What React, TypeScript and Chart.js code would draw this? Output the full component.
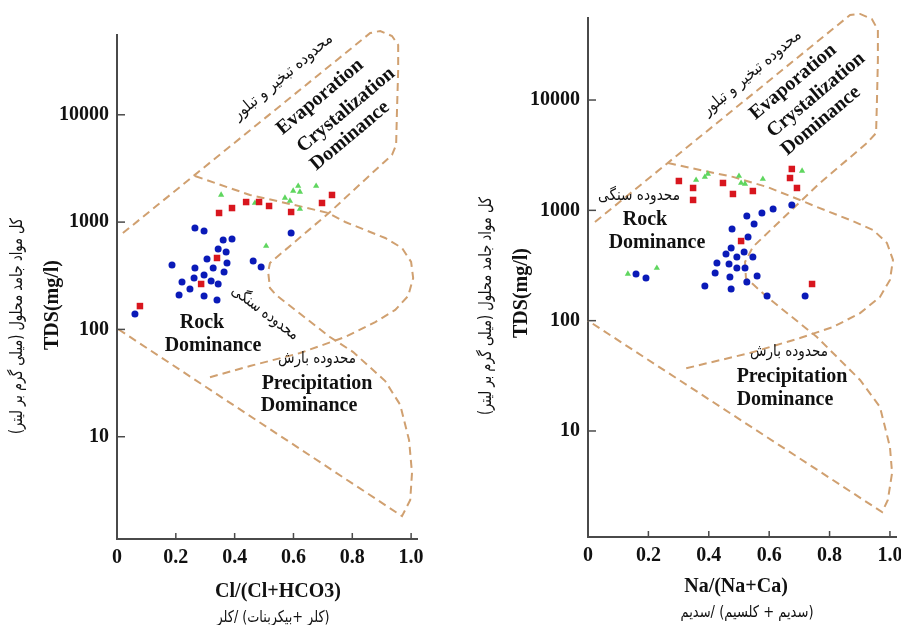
import React, { useEffect, useRef } from "react";
import { Chart, registerables } from "chart.js";

Chart.register(...registerables);

type Pt = [number, number];

// ---------------- shared axis data ----------------
const xTicks = [0, 0.2, 0.4, 0.6, 0.8, 1.0];
const xTickLabels = ["0", "0.2", "0.4", "0.6", "0.8", "1.0"];
const yTicks = [10, 100, 1000, 10000];
const yTickLabels = ["10", "100", "1000", "10000"];

// ---------------- left panel: Cl/(Cl+HCO3) ----------------
const clCircles: Pt[] = [
  [0.265, 881], [0.296, 826], [0.361, 681], [0.391, 696], [0.344, 561], [0.371, 526],
  [0.187, 398], [0.306, 453], [0.374, 416], [0.265, 373], [0.327, 373], [0.364, 343],
  [0.463, 434], [0.49, 382], [0.221, 277], [0.262, 301], [0.296, 321], [0.32, 282],
  [0.248, 238], [0.344, 265], [0.211, 209], [0.296, 205], [0.34, 188], [0.061, 139],
  [0.592, 791],
];
const clSquares: Pt[] = [
  [0.078, 165], [0.347, 1216], [0.391, 1352], [0.439, 1538], [0.483, 1540], [0.517, 1413],
  [0.592, 1242], [0.697, 1507], [0.731, 1790], [0.34, 463], [0.286, 265],
];
const clTriangles: Pt[] = [
  [0.354, 1790], [0.469, 1507], [0.571, 1679], [0.588, 1574], [0.599, 1950],
  [0.616, 2170], [0.622, 1910], [0.677, 2170], [0.622, 1324], [0.507, 599],
];
const clOuterBoundary: Pt[] = [
  [0.02, 790], [0.861, 57800], [0.895, 60400], [0.935, 54200], [0.956, 44700], [0.956, 26100],
  [0.952, 11100], [0.949, 5230], [0.935, 4220], [0.905, 3560], [0.724, 1240], [0.52, 416],
  [0.514, 343], [0.52, 243], [0.541, 209], [0.724, 85], [0.803, 61.5], [0.912, 33],
  [0.963, 19.8], [0.993, 9.3], [1.003, 4.6], [0.997, 2.57], [0.969, 1.82], [0.003, 101],
];
const clInnerBoundary: Pt[] = [
  [0.265, 2690], [0.452, 1790], [0.588, 1476], [0.718, 1216], [0.776, 1002], [0.912, 711],
  [0.969, 574], [1.0, 425], [1.007, 301], [0.99, 205], [0.946, 152], [0.878, 117],
  [0.776, 85], [0.622, 60.2], [0.452, 45.6], [0.306, 35.2],
];

// ---------------- right panel: Na/(Na+Ca) ----------------
const naCircles: Pt[] = [
  [0.159, 265], [0.192, 244], [0.675, 1119], [0.613, 1028], [0.576, 946], [0.526, 889],
  [0.55, 752], [0.477, 678], [0.53, 573], [0.474, 456], [0.457, 402], [0.493, 378],
  [0.517, 419], [0.546, 378], [0.427, 333], [0.467, 326], [0.493, 300], [0.52, 300],
  [0.421, 270], [0.47, 249], [0.526, 224], [0.56, 254], [0.387, 206], [0.474, 194],
  [0.593, 167], [0.719, 167],
];
const naSquares: Pt[] = [
  [0.301, 1845], [0.348, 1595], [0.348, 1242], [0.447, 1770], [0.48, 1407], [0.546, 1497],
  [0.675, 2371], [0.669, 1964], [0.692, 1595], [0.507, 527], [0.742, 215],
];
const naTriangles: Pt[] = [
  [0.132, 265], [0.228, 300], [0.358, 1884], [0.387, 2006], [0.397, 2137],
  [0.5, 2048], [0.507, 1770], [0.52, 1734], [0.579, 1923], [0.709, 2275],
];
const naOuterBoundary: Pt[] = [
  [0.023, 784], [0.868, 59000], [0.901, 60300], [0.94, 54300], [0.96, 43200], [0.96, 23100],
  [0.957, 10000], [0.954, 5020], [0.924, 4080], [0.768, 1770], [0.546, 466], [0.52, 340],
  [0.523, 244], [0.593, 164], [0.758, 71.1], [0.901, 29.0], [0.967, 16.5], [1.0, 7.15],
  [1.007, 4.16], [0.993, 2.37], [0.974, 1.84], [0.0, 100],
];
const naInnerBoundary: Pt[] = [
  [0.265, 2690], [0.371, 2320], [0.48, 2010], [0.593, 1630], [0.702, 1242], [0.758, 1072],
  [0.868, 818], [0.944, 664], [0.99, 506], [1.01, 355], [1.0, 234], [0.967, 164],
  [0.901, 117], [0.811, 87.5], [0.702, 69.6], [0.536, 50.9], [0.315, 36.5],
];

// ---------------- styles ----------------
const BLUE = "#0a1ab8";
const RED = "#d8161e";
const GREEN = "#5fd65f";
const DASH = "#d0a070";
const AXIS = "#4a4a4a";
const TEXT = "#111111";
const SERIF = "'Liberation Serif', 'Times New Roman', serif";
const ARABIC = "'DejaVu Sans', sans-serif";

interface Label {
  text: string;
  x: number;
  y: number;
  rot?: number;
  fa?: boolean;
  fit?: number;
  size?: number;
}

const en = (text: string, x: number, y: number, rot = 0, size = 20): Label => ({ text, x, y, rot, size });
const fa = (text: string, x: number, y: number, fit: number, rot = 0, size = 16): Label => ({ text, x, y, rot, fa: true, fit, size });

const leftLabels: Label[] = [
  fa("محدوده تبخیر و تبلور", 283, 77, 125, -40),
  en("Evaporation", 320, 97, -40),
  en("Crystalization", 346, 110, -40),
  en("Dominance", 350, 136, -40),
  fa("محدوده سنگی", 265, 313, 80, 37),
  en("Rock", 202, 323),
  en("Dominance", 213, 346),
  fa("محدوده بارش", 317, 359, 78),
  en("Precipitation", 317, 384),
  en("Dominance", 309, 406),
  en("Cl/(Cl+HCO3)", 278, 592),
  fa("(کلر +بیکربنات) /کلر", 273, 618, 113),
  en("TDS(mg/l)", 53, 305, -90),
  fa("کل مواد جامد محلول (میلی گرم بر لیتر)", 18, 326, 216, -90, 17),
];

const rightLabels: Label[] = [
  fa("محدوده تبخیر و تبلور", 302, 73, 124, -40),
  en("Evaporation", 343, 82, -40),
  en("Crystalization", 366, 95, -40),
  en("Dominance", 371, 121, -40),
  fa("محدوده سنگی", 189, 196, 82),
  en("Rock", 195, 220),
  en("Dominance", 207, 243),
  fa("محدوده بارش", 339, 352, 78),
  en("Precipitation", 342, 377),
  en("Dominance", 335, 400),
  en("Na/(Na+Ca)", 286, 587),
  fa("(سدیم + کلسیم) /سدیم", 297, 613, 133),
  en("TDS(mg/l)", 72, 293, -90),
  fa("کل مواد جامد محلول (میلی گرم بر لیتر)", 37, 306, 218, -90, 17),
];

function drawLabel(ctx: CanvasRenderingContext2D, l: Label) {
  ctx.save();
  ctx.translate(l.x, l.y);
  if (l.rot) ctx.rotate((l.rot * Math.PI) / 180);
  const family = l.fa ? ARABIC : SERIF;
  const weight = l.fa ? "normal" : "bold";
  // right-to-left embedding for Persian text
  const text = l.fa ? "\u202B" + l.text + "\u202C" : l.text;
  const size = l.size || 20;
  ctx.font = `${weight} ${size}px ${family}`;
  if (l.fit) {
    const w = ctx.measureText(text).width;
    if (w > 0) ctx.scale(l.fit / w, 1);
  }
  (ctx as any).direction = l.fa ? "rtl" : "ltr";
  ctx.textAlign = "center";
  ctx.textBaseline = "middle";
  ctx.fillStyle = TEXT;
  ctx.fillText(text, 0, 0);
  ctx.restore();
}

interface PanelProps {
  left: number;
  width: number;
  height: number;
  area: { left: number; right: number; top: number; bottom: number };
  yMin: number;
  yMax: number;
  xMax: number;
  circles: Pt[];
  squares: Pt[];
  triangles: Pt[];
  outer: Pt[];
  inner: Pt[];
  labels: Label[];
}

const toXY = (pts: Pt[]) => pts.map(([x, y]) => ({ x, y }));

function Panel(p: PanelProps) {
  const ref = useRef<HTMLCanvasElement>(null);
  useEffect(() => {
    const canvas = ref.current;
    if (!canvas) return;
    const annotate = {
      id: "annotate",
      afterDraw(chart: any) {
        const ctx: CanvasRenderingContext2D = chart.ctx;
        const { left, bottom } = chart.chartArea;
        const xs = chart.scales.x;
        const ys = chart.scales.y;
        ctx.save();
        ctx.strokeStyle = AXIS;
        ctx.lineWidth = 1.5;
        xTicks.forEach((v) => {
          if (v === 0) return;
          const px = xs.getPixelForValue(v);
          ctx.beginPath();
          ctx.moveTo(px, bottom);
          ctx.lineTo(px, bottom - 6);
          ctx.stroke();
        });
        yTicks.forEach((v) => {
          const py = ys.getPixelForValue(v);
          ctx.beginPath();
          ctx.moveTo(left, py);
          ctx.lineTo(left + 8, py);
          ctx.stroke();
        });
        ctx.restore();
        p.labels.forEach((l) => drawLabel(ctx, l));
      },
    };
    const lineDs = (pts: Pt[]) => ({
      data: toXY(pts),
      showLine: true,
      pointRadius: 0,
      borderColor: DASH,
      borderWidth: 2,
      borderDash: [8, 5],
      fill: false,
      tension: 0,
      clip: false as any,
      order: 2,
    });
    const tickFont = { family: SERIF, size: 20, weight: "bold" as any };
    const chart = new Chart(canvas, {
      type: "scatter",
      data: {
        datasets: [
          {
            data: toXY(p.squares),
            pointStyle: "rect",
            pointRadius: 4.6,
            backgroundColor: RED,
            borderWidth: 0,
            order: 0,
          } as any,
          {
            data: toXY(p.circles),
            pointStyle: "circle",
            pointRadius: 3.5,
            backgroundColor: BLUE,
            borderWidth: 0,
            order: 1,
          },
          {
            data: toXY(p.triangles),
            pointStyle: "triangle",
            pointRadius: 3.6,
            backgroundColor: GREEN,
            borderWidth: 0,
            order: 1,
          },
          lineDs(p.outer),
          lineDs(p.inner),
        ],
      },
      options: {
        responsive: false,
        animation: false,
        devicePixelRatio: 1,
        events: [],
        layout: {
          padding: { left: 0, top: p.area.top, right: p.width - p.area.right, bottom: 0 },
        },
        plugins: { legend: { display: false }, tooltip: { enabled: false } },
        scales: {
          x: {
            type: "linear",
            min: 0,
            max: p.xMax,
            afterBuildTicks: (s: any) => {
              s.ticks = xTicks.map((v) => ({ value: v }));
            },
            afterFit: (s: any) => {
              s.height = p.height - p.area.bottom;
              s.paddingLeft = 0;
              s.paddingRight = 0;
            },
            ticks: {
              autoSkip: false,
              maxRotation: 0,
              padding: 7,
              color: TEXT,
              font: tickFont,
              callback: (_v: any, i: number) => xTickLabels[i],
            },
            grid: { display: false, drawTicks: false, tickLength: 0 },
            border: { display: true, color: AXIS, width: 2 },
          },
          y: {
            type: "logarithmic",
            min: p.yMin,
            max: p.yMax,
            afterBuildTicks: (s: any) => {
              s.ticks = yTicks.map((v) => ({ value: v }));
            },
            afterFit: (s: any) => {
              s.width = p.area.left;
              s.paddingTop = 0;
              s.paddingBottom = 0;
            },
            ticks: {
              autoSkip: false,
              padding: 8,
              color: TEXT,
              font: tickFont,
              callback: (_v: any, i: number) => yTickLabels[i],
            },
            grid: { display: false, drawTicks: false, tickLength: 0 },
            border: { display: true, color: AXIS, width: 2 },
          },
        },
      },
      plugins: [annotate],
    } as any);
    return () => chart.destroy();
  }, []);
  return (
    <canvas
      ref={ref}
      width={p.width}
      height={p.height}
      style={{ position: "absolute", left: p.left, top: 0, width: p.width, height: p.height }}
    />
  );
}

export default function App() {
  return (
    <div
      style={{
        position: "absolute",
        left: 0,
        top: 0,
        width: 901,
        height: 625,
        background: "#ffffff",
        overflow: "hidden",
      }}
    >
      <Panel
        left={0}
        width={450}
        height={625}
        area={{ left: 117, right: 417, top: 35, bottom: 539 }}
        yMin={1.114}
        yMax={55400}
        xMax={1.02}
        circles={clCircles}
        squares={clSquares}
        triangles={clTriangles}
        outer={clOuterBoundary}
        inner={clInnerBoundary}
        labels={leftLabels}
      />
      <Panel
        left={450}
        width={451}
        height={625}
        area={{ left: 138, right: 446, top: 18, bottom: 537 }}
        yMin={1.094}
        yMax={55400}
        xMax={1.02}
        circles={naCircles}
        squares={naSquares}
        triangles={naTriangles}
        outer={naOuterBoundary}
        inner={naInnerBoundary}
        labels={rightLabels}
      />
    </div>
  );
}
